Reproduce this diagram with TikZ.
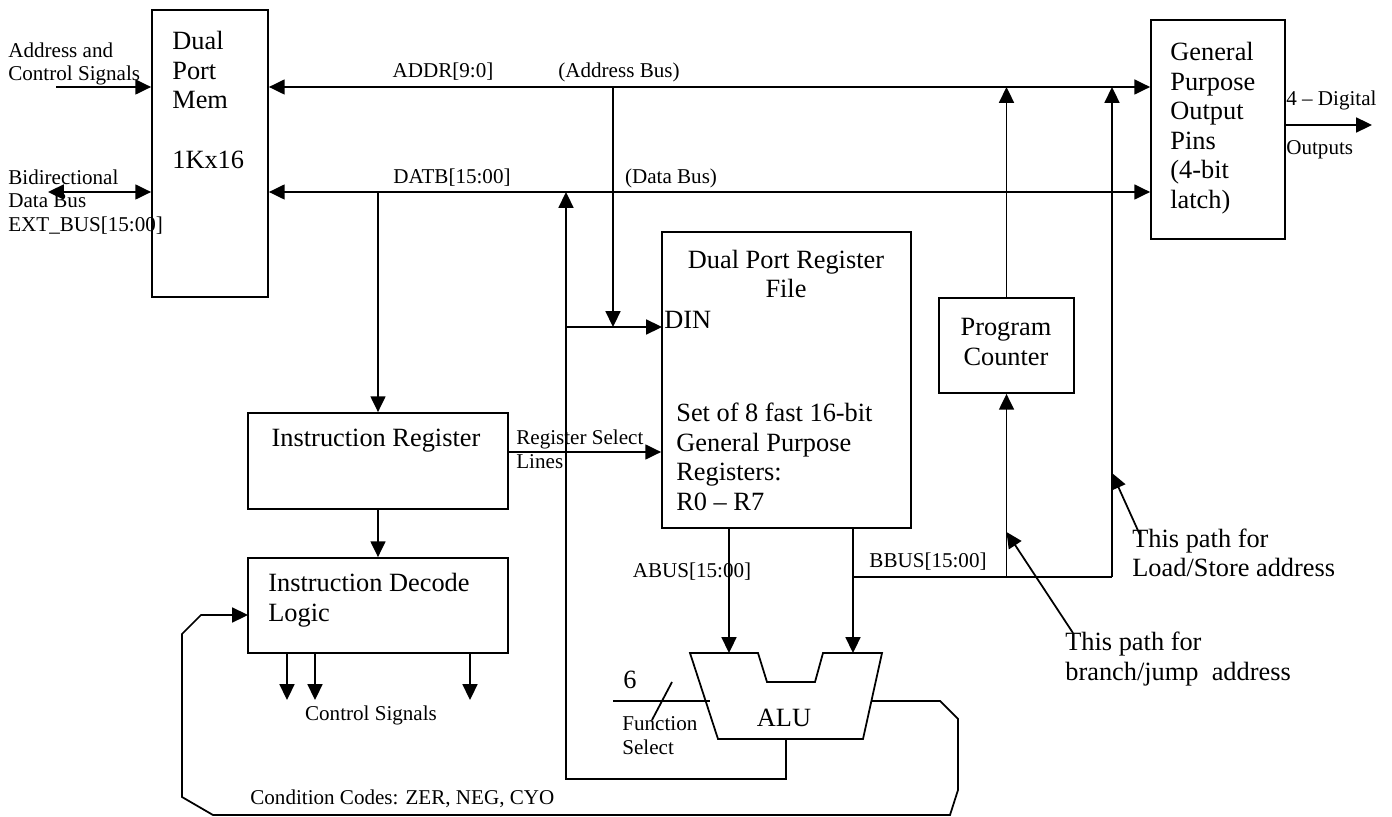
\documentclass[tikz,border=0pt]{standalone}
\usepackage{fontspec}
\setmainfont{Liberation Serif}
\usetikzlibrary{arrows.meta, fit, calc}

\begin{document}
\begin{tikzpicture}[
  x=0.02cm, y=-0.02cm,
  blk/.style={draw, line width=1pt, inner sep=0pt},
  big/.style={inner sep=0pt, align=left, font=\fontsize{15}{16.8}\selectfont},
  sml/.style={inner sep=0pt, align=left, font=\fontsize{12}{13.6}\selectfont},
  wire/.style={line width=1pt},
  arr/.style={wire, -{Triangle[length=9pt, width=8.5pt]}},
  darr/.style={wire, {Triangle[length=9pt, width=8.5pt]}-{Triangle[length=9pt, width=8.5pt]}},
]
  \useasboundingbox (0,0) rectangle (1392,817);

  % blocks
  \node[blk, fit={(152,10) (268,297)}]   (mem) {};
  \node[blk, fit={(1151,20) (1285,239)}] (gpo) {};
  \node[blk, fit={(662,232) (911,528)}]  (rf)  {};
  \node[blk, fit={(939,298) (1074,393)}] (pc)  {};
  \node[blk, fit={(248,413) (508,509)}]  (ir)  {};
  \node[blk, fit={(248,558) (508,653)}]  (idl) {};

  % ALU outline
  \draw[wire] (690,653) -- (758,653) -- (767,682) -- (815,682) -- (823,653)
    -- (882,653) -- (863,739) -- (718,739) -- cycle;
  \coordinate (alua) at (729,653);
  \coordinate (alub) at (853,653);
  \coordinate (aluo) at (786,739);
  \coordinate (aluf) at (710,701);
  \coordinate (aluc) at (871,701);

  % bus levels and taps
  \coordinate (addr)  at (0,87);
  \coordinate (datb)  at (0,192);
  \coordinate (acin)  at (56,87);
  \coordinate (bdin)  at (48,192);
  \coordinate (atap)  at (613,87);
  \coordinate (din)   at (662,327);
  \coordinate (rsel)  at (508,452);
  \coordinate (lpbl)  at (566,779);
  \coordinate (bb)    at (853,577);
  \coordinate (lsup)  at (1112,577);
  \coordinate (gpout) at (1372,125);
  \coordinate (fsel)  at (613,701);
  \coordinate (cc)    at (248,615);

  % labels
  \node[sml, anchor=west] (acl)  at (8,64)    {Address and\\Control Signals};
  \node[sml, anchor=west] (bdl)  at (8,202)   {Bidirectional\\Data Bus\\EXT\_BUS[15:00]};
  \node[big, anchor=west] (meml) at (172,100) {Dual\\Port\\Mem\\[17pt]1Kx16};
  \node[sml] (addrl) at (443,72)  {ADDR[9:0]};
  \node[sml] (abl)   at (619,72)  {(Address Bus)};
  \node[sml] (datbl) at (452,178) {DATB[15:00]};
  \node[sml] (dbl)   at (671,178) {(Data Bus)};
  \node[big, anchor=west] (gpol) at (1170,128) {General\\Purpose\\Output\\Pins\\(4-bit\\latch)};
  \node[sml, anchor=west] (digl) at (1286,100) {4 – Digital};
  \node[sml, anchor=west] (outl) at (1286,150) {Outputs};
  \node[big, align=center] (rft) at (786,274) {Dual Port Register\\File};
  \node[big, anchor=west] (dinl) at (664,320) {DIN};
  \node[big, anchor=west] (rfl)  at (676,457) {Set of 8 fast 16-bit\\General Purpose\\Registers:\\R0 – R7};
  \node[big, align=center] (pcl) at (1006,342) {Program\\Counter};
  \node[big] (irl) at (376,441) {Instruction Register};
  \node[sml, anchor=west] (rsl)  at (516,449) {Register Select\\Lines};
  \node[big, anchor=west] (idll) at (268,600) {Instruction Decode\\Logic};
  \node[sml] (csl)  at (371,715) {Control Signals};
  \node[sml] (abus) at (692,572) {ABUS[15:00]};
  \node[sml] (bbus) at (928,562) {BBUS[15:00]};
  \node[big] (alul) at (784,718) {ALU};
  \node[big] (sixl) at (630,680) {6};
  \node[sml, anchor=west] (fsl) at (622,736) {Function\\Select};
  \node[sml, anchor=west] (ccl) at (250,799) {Condition Codes: ZER, NEG, CYO};
  \node[big, anchor=west] (lsl) at (1132,553) {This path for\\Load/Store address};
  \node[big, anchor=west] (brl) at (1065,659) {This path for\\branch/jump\ \ address};

  % external lines
  \draw[arr]  (acin) -- (acin -| mem.west);
  \draw[darr] (bdin) -- (bdin -| mem.west);

  % address and data buses
  \draw[darr] (mem.east |- addr) -- (gpo.west |- addr);
  \draw[darr] (mem.east |- datb) -- (gpo.west |- datb);
  \draw[arr]  (gpo.east |- gpout) -- (gpout);

  \draw[arr] (atap) -- (atap |- din);
  \draw[arr] (ir.north |- datb) -- (ir.north);
  \draw[arr] (ir.south) -- (idl.north);
  \draw[arr] (rsel) -- (rsel -| rf.west);

  % ALU result back to bus and DIN
  \draw[arr] (aluo) |- (lpbl) -- (lpbl |- datb);
  \draw[arr] (lpbl |- din) -- (din);

  % register file outputs
  \draw[arr] (rf.south -| alua) -- (alua);
  \draw[arr] (rf.south -| alub) -- (alub);
  \draw[wire] (bb) -- (lsup);
  \draw[arr] (lsup) -- (lsup |- addr);
  \draw[arr] (pc.south |- bb) -- (pc.south);
  \draw[arr] (pc.north) -- (pc.north |- addr);

  % control signals
  \foreach \cx in {287,315,470}
    \draw[arr] (idl.south -| \cx,0) -- (\cx,700);

  % function select
  \draw[wire] (fsel) -- (aluf);
  \draw[wire] (652,720) -- (672,682);

  % condition codes loop
  \draw[arr] (aluc) -- (940,701) -- (958,719) -- (958,790) -- (950,815)
    -- (213,815) -- (182,797) -- (182,634) -- (201,615) -- (cc);

  % notes
  \draw[arr] (1140,535) -- (lsup |- 0,473);
  \draw[arr] (1073,633) -- (pc.south |- 0,532);
\end{tikzpicture}
\end{document}
